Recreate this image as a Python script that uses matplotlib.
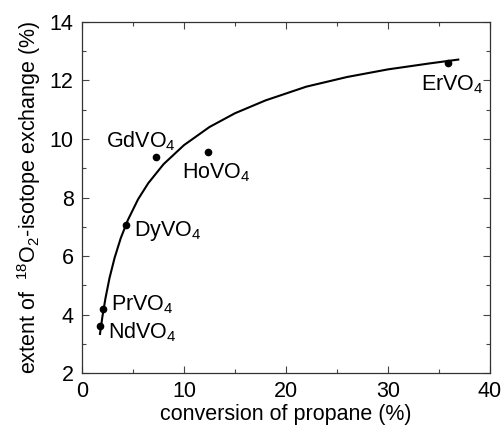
import matplotlib
matplotlib.use("Agg")
import matplotlib.pyplot as plt
from matplotlib.ticker import MultipleLocator

plt.rcParams['font.family'] = ['Liberation Sans', 'DejaVu Sans']
plt.rcParams['mathtext.fontset'] = 'custom'
plt.rcParams['mathtext.rm'] = 'Liberation Sans'

# measured catalysts: propane conversion vs. 18O2 exchange
catalysts = ["NdVO_4", "PrVO_4", "DyVO_4", "GdVO_4", "HoVO_4", "ErVO_4"]
conversion = [1.8, 2.1, 4.35, 7.25, 12.4, 35.9]
exchange = [3.6, 4.2, 7.06, 9.37, 9.57, 12.61]

# trend line through the data
trend_x = [1.75, 2.0, 2.3, 2.7, 3.2, 3.8, 4.5, 5.5, 6.5, 8.0, 10.0,
           12.5, 15.0, 18.0, 22.0, 26.0, 30.0, 34.0, 37.0]
trend_y = [3.30, 3.92, 4.55, 5.25, 5.94, 6.61, 7.23, 7.94, 8.49, 9.14, 9.79,
           10.41, 10.88, 11.32, 11.79, 12.12, 12.38, 12.58, 12.72]

# where each label sits (left edge, baseline)
label_x = [2.58, 2.84, 5.1, 2.35, 9.77, 33.2]
label_y = [3.2, 4.15, 6.7, 9.71, 8.67, 11.66]

fig = plt.figure(figsize=(5.03, 4.28), dpi=100)
ax = fig.add_axes([0.163, 0.1285, 0.811, 0.8201])

ax.plot(trend_x, trend_y, color='black', linewidth=1.5, solid_capstyle='butt')
ax.plot(conversion, exchange, 'o', color='black', markersize=4.5)

for name, lx, ly in zip(catalysts, label_x, label_y):
    ax.text(lx, ly, r'$\mathregular{' + name + '}$', fontsize=15.5,
            ha='left', va='baseline')

ax.set_xlim(0, 40)
ax.set_ylim(2, 14)
ax.xaxis.set_major_locator(MultipleLocator(10))
ax.xaxis.set_minor_locator(MultipleLocator(5))
ax.yaxis.set_major_locator(MultipleLocator(2))
ax.yaxis.set_minor_locator(MultipleLocator(1))
ax.tick_params(which='both', direction='in', top=True, right=True,
               colors='#444444', labelcolor='black', labelsize=15.5, width=0.8)
ax.tick_params(which='major', length=5, pad=6)
ax.tick_params(which='minor', length=3)
for s in ax.spines.values():
    s.set_linewidth(0.9)
    s.set_color('#333333')

ax.set_xlabel('conversion of propane (%)', fontsize=15.5, labelpad=1)
ax.set_ylabel(r'extent of  $\mathregular{^{18}O_2}$-isotope exchange (%)',
              fontsize=15.5, labelpad=5)

fig.savefig('out.png', dpi=100)
